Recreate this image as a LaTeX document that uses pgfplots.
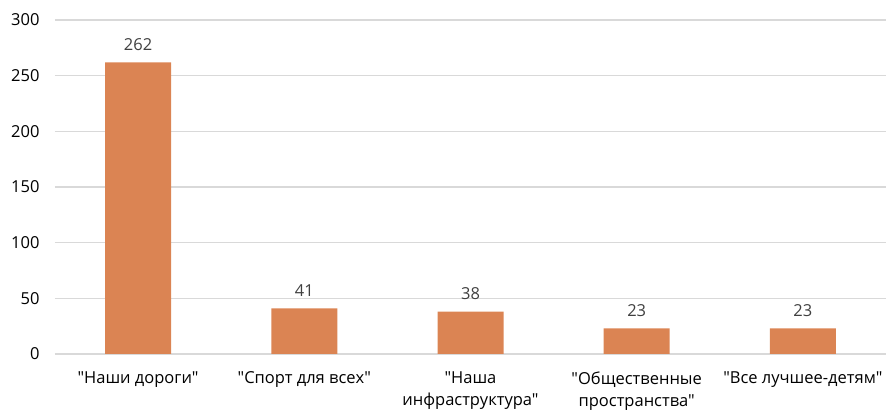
\documentclass[border=0pt]{standalone}
\usepackage{pgfplots}
\pgfplotsset{compat=1.18}
\usepackage{fontspec}
\setmainfont{Open Sans}[Ligatures=TeXOff]
\definecolor{barorange}{HTML}{DB8453}
\definecolor{gridgray}{HTML}{D9D9D9}
\definecolor{labelgray}{HTML}{404040}
\begin{document}
\begin{tikzpicture}[x=1pt,y=1pt]
\useasboundingbox (-55,-57) rectangle (831,354);
\begin{axis}[
  at={(0,0)}, anchor=south west,
  scale only axis,
  width=831pt, height=334pt,
  xmin=-0.5, xmax=4.5,
  ymin=0, ymax=300,
  ytick={0,50,...,300},
  xtick=data,
  xticklabels={{"Наши дороги"},{"Спорт для всех"},{"Наша\\инфраструктура"},{"Общественные\\пространства"},{"Все лучшее-детям"}},
  xticklabel style={align=center, anchor=north, yshift=-14pt, font=\fontsize{16.5}{22}\selectfont, text=black},
  yticklabel style={font=\fontsize{16.5}{18}\selectfont, text=black, xshift=-12pt},
  /pgf/number format/assume math mode=true,
  major tick length=0pt,
  axis line style={draw=none},
  ymajorgrids,
  grid style={gridgray, line width=1.3pt},
  ybar, bar width=66pt,
  nodes near coords,
  every node near coord/.append style={font=\fontsize{16.5}{18}\selectfont, text=labelgray, yshift=8pt},
  clip=false,
]
\addplot[fill=barorange, draw=none] coordinates {(0,262) (1,41) (2,38) (3,23) (4,23)};
\end{axis}
\end{tikzpicture}
\end{document}
